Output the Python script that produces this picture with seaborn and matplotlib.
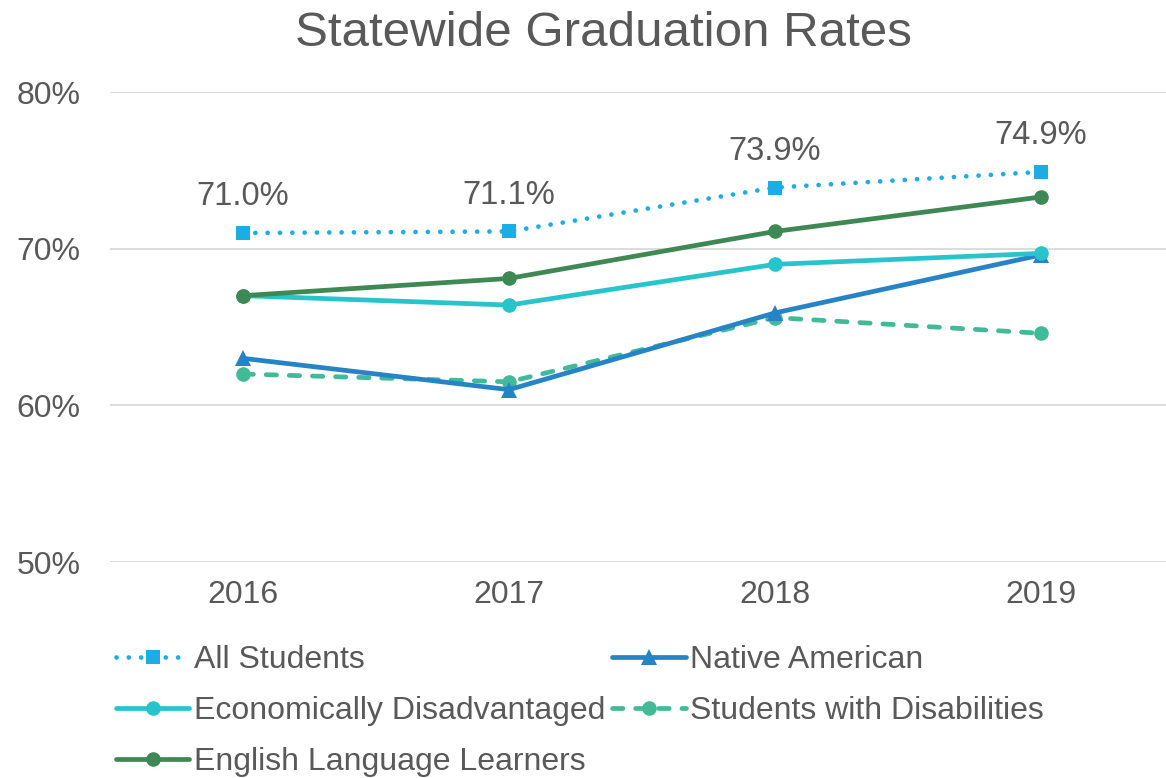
import pandas as pd
import seaborn as sns
import matplotlib.pyplot as plt

# datos
years = [2016, 2017, 2018, 2019]
all_students = [71.0, 71.1, 73.9, 74.9]
native_american = [63.0, 61.0, 65.9, 69.6]
econ_disadvantaged = [67.0, 66.4, 69.0, 69.7]
students_disabilities = [62.0, 61.5, 65.6, 64.6]
ell = [67.0, 68.1, 71.1, 73.3]

y_ticks = [50, 60, 70, 80]

series = {
    'All Students': all_students,
    'Native American': native_american,
    'Economically Disadvantaged': econ_disadvantaged,
    'Students with Disabilities': students_disabilities,
    'English Language Learners': ell,
}

colores = {
    'All Students': '#1CADE4',
    'Native American': '#2683C6',
    'Economically Disadvantaged': '#27C4CC',
    'Students with Disabilities': '#42BA97',
    'English Language Learners': '#3E8853',
}
estilos = {
    'All Students': ((0, (0.01, 2.6)), 's'),
    'Native American': ('-', '^'),
    'Economically Disadvantaged': ('-', 'o'),
    'Students with Disabilities': ((0, (2.2, 2.7)), 'o'),
    'English Language Learners': ('-', 'o'),
}

filas = []
for nombre, vals in series.items():
    for y, v in zip(years, vals):
        filas.append({'Año': y, 'Tasa': v, 'Grupo': nombre})
df = pd.DataFrame(filas)

sns.set_theme(style="white")
plt.rcParams['font.family'] = ['Liberation Sans', 'DejaVu Sans']
gris = '#595959'

fig = plt.figure(figsize=(11.66, 7.78), dpi=100)
ax = fig.add_axes([110 / 1166, 1 - 562 / 778, 1 - 110 / 1166, (562 - 92) / 778])

orden_dibujo = ['Students with Disabilities', 'Native American', 'Economically Disadvantaged',
                'English Language Learners', 'All Students']
for nombre in orden_dibujo:
    ls, mk = estilos[nombre]
    sns.lineplot(
        data=df[df['Grupo'] == nombre], x='Año', y='Tasa', ax=ax,
        color=colores[nombre], linestyle=ls, marker=mk,
        markersize=10.5 if mk != '^' else 11, markeredgewidth=0,
        linewidth=3.4, label=nombre, dash_capstyle='round',
    )

# etiquetas de All Students
for x, v in zip(years, all_students):
    ax.annotate(f'{v:.1f}%', (x, v), xytext=(0, 26), textcoords='offset points',
                ha='center', va='center', fontsize=23.5, color=gris)

ax.set_xlim(2015.5, 2019.47)
ax.set_ylim(50, 80)
ax.set_xticks(years)
ax.set_xticklabels([str(y) for y in years])
ax.set_yticks(y_ticks)
ax.set_yticklabels([f'{t}%' for t in y_ticks])
ax.tick_params(axis='both', labelsize=23, colors=gris, length=0)
ax.tick_params(axis='x', pad=13)
ax.tick_params(axis='y', pad=21)
ax.grid(axis='y', color='#D9D9D9', linewidth=1.3)
ax.set_axisbelow(True)
for s in ax.spines.values():
    s.set_visible(False)
ax.set_xlabel('')
ax.set_ylabel('')

fig.text(603 / 1166, 1 - 34 / 778, 'Statewide Graduation Rates', ha='center', va='center',
         fontsize=35.5, color=gris)

# leyenda en dos columnas
ax.get_legend().remove()
handles, labels = ax.get_legend_handles_labels()
mapa = dict(zip(labels, handles))
orden_leyenda = ['All Students', 'Economically Disadvantaged', 'English Language Learners',
                 'Native American', 'Students with Disabilities']
leg = fig.legend([mapa[n] for n in orden_leyenda], orden_leyenda, ncol=2,
                 loc='upper left', bbox_to_anchor=(116 / 1166, 1 - 645 / 778),
                 frameon=False, fontsize=23, handlelength=2.3, handletextpad=0.15,
                 columnspacing=0.2, labelspacing=0.66, borderpad=0, borderaxespad=0)
for t in leg.get_texts():
    t.set_color(gris)

fig.savefig('out.png', dpi=100)
